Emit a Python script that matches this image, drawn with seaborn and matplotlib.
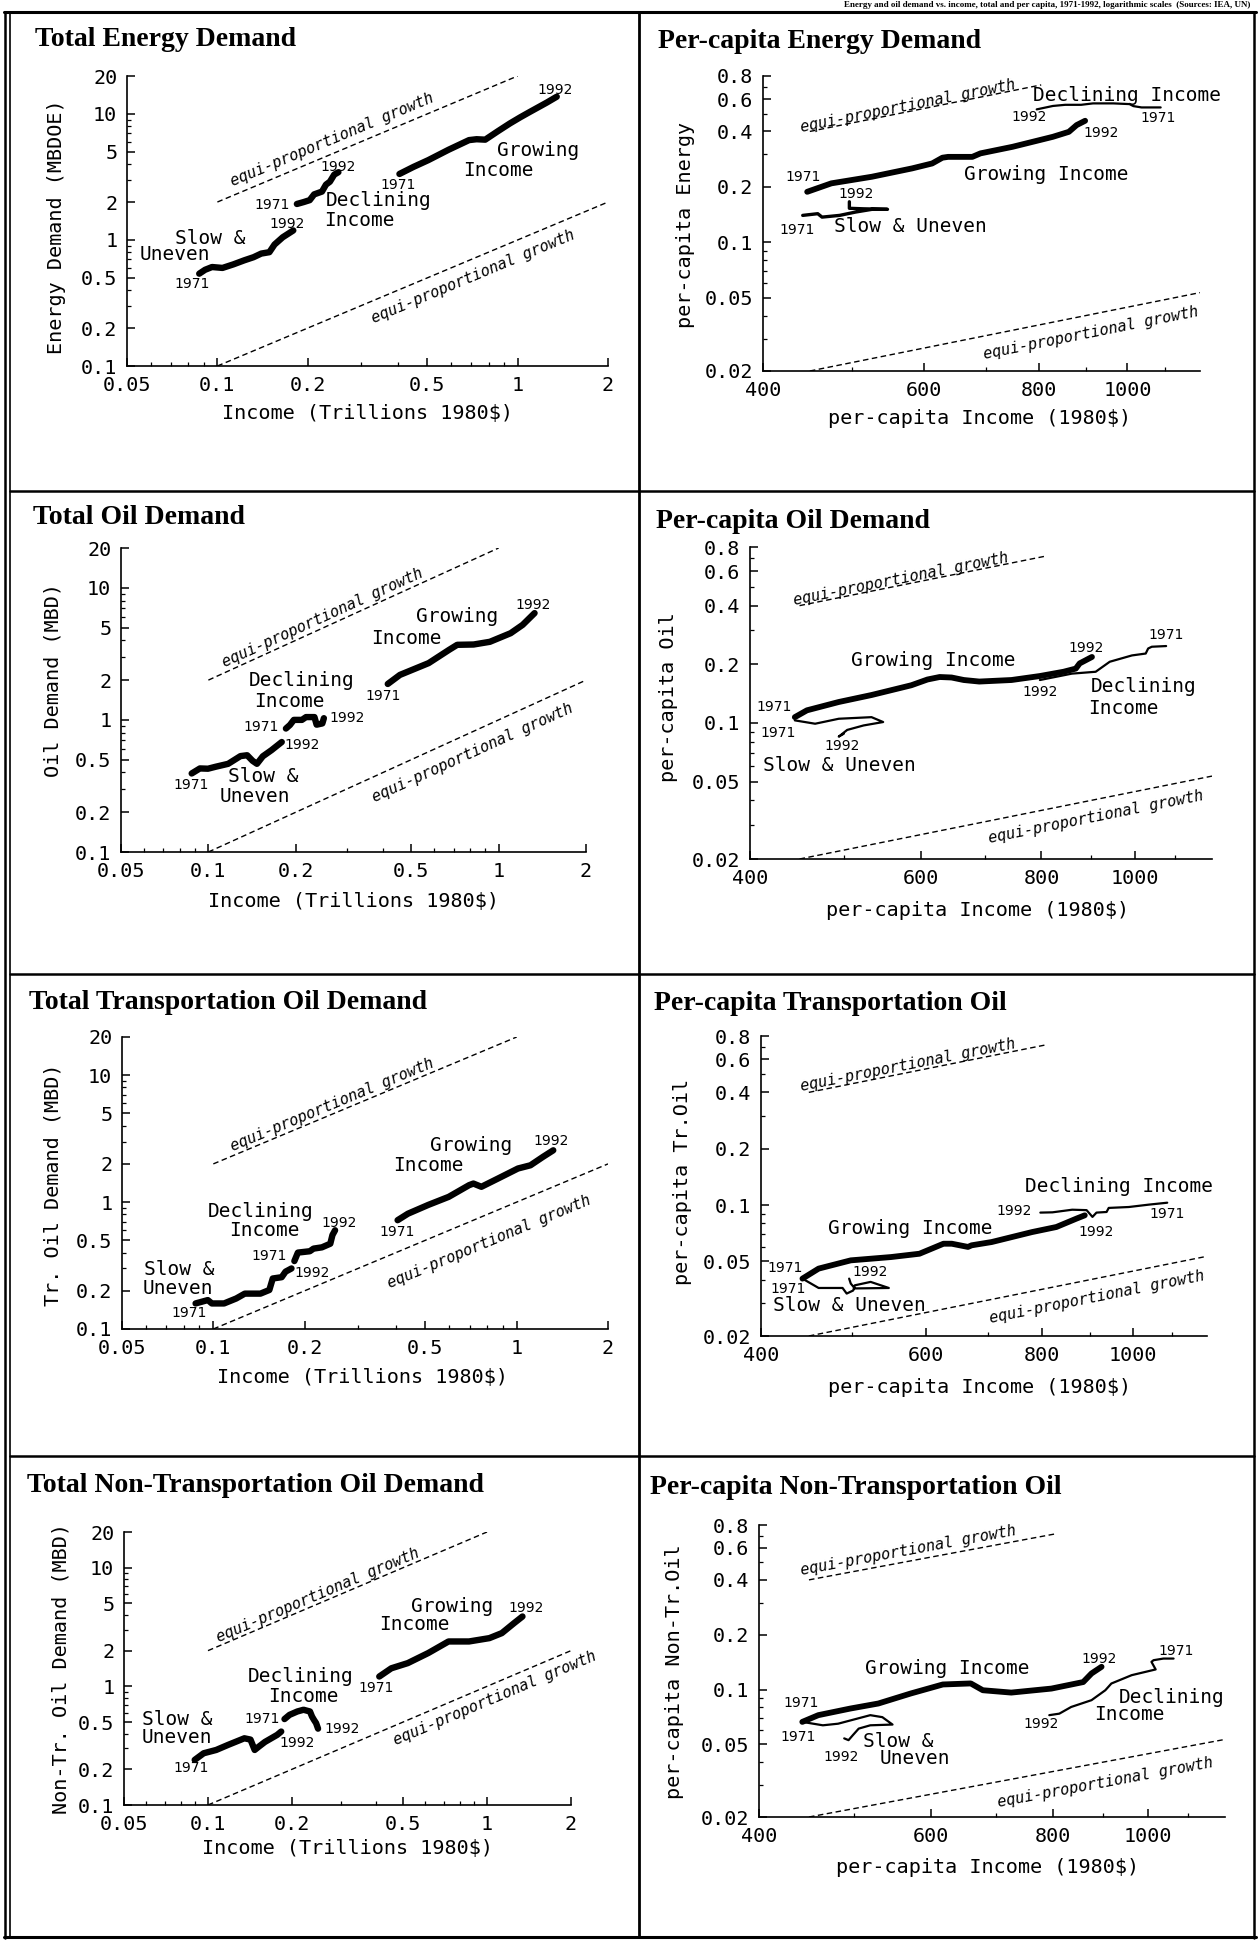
import numpy as np
import matplotlib
matplotlib.use("Agg")
import matplotlib.pyplot as plt
import seaborn as sns
from matplotlib.lines import Line2D
from matplotlib.ticker import FixedLocator, FixedFormatter, NullFormatter

W, H = 1260, 1942

# ---------------- data ----------------
# Total energy demand (MBDOE) vs income (trillions 1980$)
te_slow_x = [0.087, 0.091, 0.096, 0.104, 0.113, 0.123, 0.132, 0.140, 0.149, 0.155, 0.165, 0.179]
te_slow_y = [0.54, 0.58, 0.61, 0.60, 0.64, 0.69, 0.73, 0.78, 0.80, 0.92, 1.05, 1.19]
te_decl_x = [0.184, 0.194, 0.203, 0.210, 0.223, 0.230, 0.237, 0.245, 0.253]
te_decl_y = [1.93, 2.00, 2.07, 2.30, 2.42, 2.75, 2.90, 3.30, 3.45]
te_grow_x = [0.404, 0.45, 0.504, 0.589, 0.689, 0.73, 0.78, 0.86, 0.942, 1.02, 1.10, 1.25, 1.35]
te_grow_y = [3.34, 3.8, 4.3, 5.2, 6.2, 6.3, 6.25, 7.3, 8.4, 9.4, 10.4, 12.3, 13.7]

# Per-capita energy vs per-capita income (1980$)
pe_slow_x = [442, 459, 464, 485, 505, 526, 547, 515, 497, 497]
pe_slow_y = [0.140, 0.143, 0.137, 0.140, 0.146, 0.151, 0.151, 0.152, 0.153, 0.166]
pe_decl_x = [1087, 1036, 1015, 1005, 965, 917, 890, 855, 829, 796]
pe_decl_y = [0.540, 0.540, 0.549, 0.563, 0.568, 0.568, 0.558, 0.558, 0.550, 0.527]
pe_grow_x = [447, 475, 526, 582, 612, 628, 637, 677, 691, 749, 829, 863, 880, 899]
pe_grow_y = [0.188, 0.209, 0.227, 0.252, 0.268, 0.288, 0.291, 0.291, 0.304, 0.330, 0.374, 0.398, 0.433, 0.457]

# Total oil demand (MBD)
to_slow_x = [0.0876, 0.0935, 0.0997, 0.106, 0.117, 0.129, 0.136, 0.142, 0.147, 0.154, 0.165, 0.179]
to_slow_y = [0.393, 0.429, 0.427, 0.442, 0.465, 0.532, 0.540, 0.49, 0.465, 0.53, 0.59, 0.68]
to_decl_x = [0.185, 0.191, 0.197, 0.210, 0.217, 0.232, 0.236, 0.247, 0.250]
to_decl_y = [0.86, 0.915, 1.0, 1.0, 1.05, 1.05, 0.92, 0.94, 1.03]
to_grow_x = [0.415, 0.457, 0.574, 0.675, 0.72, 0.82, 0.933, 1.10, 1.21, 1.33]
to_grow_y = [1.87, 2.19, 2.69, 3.39, 3.70, 3.72, 3.9, 4.53, 5.24, 6.43]

# Per-capita oil
po_slow_x = [445, 467, 494, 534, 549, 524, 504, 494, 500]
po_slow_y = [0.103, 0.099, 0.105, 0.107, 0.101, 0.097, 0.092, 0.085, 0.088]
po_decl_x = [1076, 1040, 1031, 1025, 992, 941, 910, 860, 797]
po_decl_y = [0.248, 0.246, 0.241, 0.227, 0.222, 0.206, 0.183, 0.179, 0.166]
po_grow_x = [445, 458, 494, 534, 587, 610, 628, 646, 665, 690, 745, 797, 843, 868, 876, 902]
po_grow_y = [0.107, 0.116, 0.128, 0.139, 0.156, 0.167, 0.172, 0.171, 0.166, 0.163, 0.166, 0.174, 0.183, 0.19, 0.202, 0.218]

# Total transportation oil demand (MBD)
tt_slow_x = [0.0874, 0.0959, 0.0989, 0.1085, 0.119, 0.127, 0.143, 0.153, 0.157, 0.168, 0.173, 0.181]
tt_slow_y = [0.159, 0.169, 0.159, 0.159, 0.174, 0.19, 0.19, 0.203, 0.25, 0.256, 0.283, 0.30]
tt_decl_x = [0.185, 0.19, 0.208, 0.214, 0.228, 0.243, 0.247, 0.252]
tt_decl_y = [0.343, 0.40, 0.41, 0.43, 0.44, 0.47, 0.55, 0.60]
tt_grow_x = [0.405, 0.438, 0.511, 0.597, 0.697, 0.72, 0.765, 0.866, 1.01, 1.11, 1.22, 1.32]
tt_grow_y = [0.72, 0.81, 0.95, 1.10, 1.36, 1.40, 1.32, 1.53, 1.84, 1.95, 2.27, 2.56]

# Per-capita transportation oil
pt_slow_x = [443, 461, 489, 494, 502, 504, 524, 548, 504, 499, 497]
pt_slow_y = [0.0405, 0.0361, 0.0361, 0.0337, 0.035, 0.0373, 0.0389, 0.0361, 0.0359, 0.0381, 0.0405]
pt_decl_x = [1088, 1040, 990, 942, 937, 914, 905, 892, 861, 820, 796]
pt_decl_y = [0.103, 0.1006, 0.0977, 0.0966, 0.0919, 0.0912, 0.0865, 0.094, 0.0945, 0.0915, 0.0912]
pt_grow_x = [443, 461, 499, 551, 591, 627, 640, 666, 672, 706, 780, 828, 870, 888]
pt_grow_y = [0.0405, 0.0458, 0.0507, 0.0528, 0.055, 0.0622, 0.0622, 0.0598, 0.061, 0.0635, 0.0718, 0.0764, 0.0847, 0.0882]

# Total non-transportation oil demand (MBD)
tn_slow_x = [0.0896, 0.0965, 0.107, 0.118, 0.135, 0.142, 0.147, 0.152, 0.16, 0.177, 0.183]
tn_slow_y = [0.24, 0.273, 0.291, 0.321, 0.365, 0.356, 0.291, 0.31, 0.34, 0.39, 0.416]
tn_decl_x = [0.188, 0.196, 0.209, 0.22, 0.232, 0.236, 0.24, 0.244, 0.248]
tn_decl_y = [0.53, 0.575, 0.614, 0.635, 0.614, 0.556, 0.52, 0.49, 0.44]
tn_grow_x = [0.411, 0.454, 0.52, 0.616, 0.728, 0.862, 1.02, 1.13, 1.25, 1.34]
tn_grow_y = [1.21, 1.42, 1.57, 1.91, 2.39, 2.39, 2.55, 2.81, 3.41, 3.88]

# Per-capita non-transportation oil
pn_slow_x = [443, 465, 482, 520, 535, 548, 520, 506, 499, 494, 489]
pn_slow_y = [0.0665, 0.0637, 0.065, 0.0724, 0.0706, 0.0643, 0.0637, 0.0611, 0.0562, 0.0528, 0.054]
pn_decl_x = [1063, 1038, 1014, 1009, 1019, 963, 918, 905, 876, 835, 812, 793]
pn_decl_y = [0.148, 0.148, 0.145, 0.142, 0.129, 0.12, 0.108, 0.0992, 0.0875, 0.0803, 0.0738, 0.0724]
pn_grow_x = [443, 460, 496, 530, 572, 617, 659, 678, 725, 797, 859, 876, 897]
pn_grow_y = [0.0665, 0.0724, 0.0787, 0.0839, 0.0952, 0.1067, 0.1081, 0.0992, 0.0963, 0.1013, 0.110, 0.1226, 0.1334]

# equi-proportional growth reference lines (slope 1 in log-log)
tot_eq_up_x, tot_eq_up_y = [0.1, 1.0], [2.0, 20.0]
tot_eq_lo_x, tot_eq_lo_y = [0.1, 2.0], [0.1, 2.0]
pc_eq_up_x, pc_eq_up_y = [450, 805], [0.4, 0.7156]
pc_eq_lo_x, pc_eq_lo_y = [450, 1200], [0.02, 0.0533]

# tick labels
tot_xticks = [0.05, 0.1, 0.2, 0.5, 1, 2]
tot_xticklabels = ["0.05", "0.1", "0.2", "0.5", "1", "2"]
tot_yticks = [0.1, 0.2, 0.5, 1, 2, 5, 10, 20]
tot_yticklabels = ["0.1", "0.2", "0.5", "1", "2", "5", "10", "20"]
pc_xticks = [400, 600, 800, 1000]
pc_xticklabels = ["400", "600", "800", "1000"]
pc_yticks = [0.02, 0.05, 0.1, 0.2, 0.4, 0.6, 0.8]
pc_yticklabels = ["0.02", "0.05", "0.1", "0.2", "0.4", "0.6", "0.8"]

# annotations (text, x, y) in data coordinates
te_labels = [("1992", 1.33, 15.5), ("Growing", 1.17, 5.17), ("Income", 0.86, 3.59), ("1971", 0.40, 2.73),
             ("1992", 0.253, 3.82), ("1971", 0.152, 1.89), ("Declining", 0.344, 2.04), ("Income", 0.296, 1.44),
             ("1992", 0.171, 1.34), ("Slow &", 0.0944, 1.03), ("Uneven", 0.0723, 0.76), ("1971", 0.0827, 0.45)]
te_eq = [(0.241, 6.2), (0.71, 0.51)]
pe_labels = [("Declining Income", 1000, 0.63), ("1992", 780, 0.477), ("1971", 1081, 0.474), ("1992", 936, 0.394),
             ("Growing Income", 816, 0.232), ("1971", 442, 0.225), ("1992", 506, 0.184), ("1971", 436, 0.117),
             ("Slow & Uneven", 580, 0.122)]
pe_eq = [(576, 0.55), (913, 0.032)]
to_labels = [("1992", 1.31, 7.4), ("Growing", 0.72, 6.07), ("Income", 0.48, 4.16), ("1971", 0.40, 1.52),
             ("Declining", 0.209, 2.0), ("Income", 0.19, 1.37), ("1971", 0.152, 0.88), ("1992", 0.30, 1.03),
             ("1992", 0.21, 0.645), ("Slow &", 0.154, 0.376), ("Uneven", 0.145, 0.265), ("1971", 0.087, 0.32)]
to_eq = [(0.247, 5.9), (0.81, 0.56)]
po_labels = [("Growing Income", 619, 0.21), ("1992", 889, 0.241), ("1971", 1076, 0.282), ("1992", 797, 0.144),
             ("Declining", 1021, 0.153), ("Income", 973, 0.119), ("1971", 424, 0.121), ("1971", 428, 0.089),
             ("1992", 498, 0.076), ("Slow & Uneven", 495, 0.0607)]
po_eq = [(573, 0.55), (910, 0.033)]
tt_labels = [("1992", 1.30, 3.02), ("Growing", 0.71, 2.8), ("Income", 0.51, 1.95), ("1971", 0.405, 0.58),
             ("Declining", 0.143, 0.85), ("Income", 0.147, 0.60), ("1992", 0.259, 0.68), ("1971", 0.153, 0.378),
             ("1992", 0.211, 0.274), ("Slow &", 0.077, 0.297), ("Uneven", 0.0766, 0.209), ("1971", 0.083, 0.133)]
tt_eq = [(0.247, 5.8), (0.81, 0.49)]
pt_labels = [("Declining Income", 966, 0.125), ("1992", 746, 0.093), ("1971", 1088, 0.09), ("1992", 914, 0.0718),
             ("Growing Income", 578, 0.0749), ("1971", 425, 0.046), ("1992", 524, 0.0439), ("1971", 428, 0.0358),
             ("Slow & Uneven", 497, 0.0292)]
pt_eq = [(574, 0.56), (914, 0.0323)]
tn_labels = [("1992", 1.38, 4.57), ("Growing", 0.75, 4.72), ("Income", 0.547, 3.3), ("1971", 0.40, 0.97),
             ("Declining", 0.215, 1.21), ("Income", 0.22, 0.82), ("1971", 0.156, 0.53), ("1992", 0.303, 0.44),
             ("1992", 0.208, 0.336), ("Slow &", 0.0775, 0.53), ("Uneven", 0.0775, 0.37), ("1971", 0.087, 0.204)]
tn_eq = [(0.248, 5.9), (1.07, 0.79)]
pn_labels = [("1971", 1070, 0.163), ("1992", 892, 0.148), ("Growing Income", 624, 0.13), ("Declining", 1058, 0.09),
             ("Income", 958, 0.073), ("1992", 778, 0.065), ("1971", 442, 0.084), ("1971", 439, 0.055),
             ("1992", 486, 0.0427), ("Slow &", 555, 0.052), ("Uneven", 578, 0.042)]
pn_eq = [(569, 0.576), (905, 0.031)]

# ---------------- styling ----------------
sns.set_theme(style="ticks")
plt.rcParams["font.family"] = ["DejaVu Sans Mono", "DejaVu Sans"]
plt.rcParams["axes.edgecolor"] = "black"
plt.rcParams["text.color"] = "black"
plt.rcParams["xtick.color"] = "black"
plt.rcParams["ytick.color"] = "black"

MONO = "DejaVu Sans Mono"
SERIF = "Liberation Serif"
TICK_FS = 14.5
LAB_FS = 14.5
GRP_FS = 14.0
YR_FS = 10.0
EQ_FS = 11.0
TITLE_FS = 20.0

fig = plt.figure(figsize=(W / 100, H / 100), dpi=100)
fig.patch.set_facecolor("white")


def fx(px):
    return px / W


def fy(py):
    return 1 - py / H


panels = [
    dict(kind="tot", rect=(127, 76, 608, 366), title="Total Energy Demand", tpos=(35, 39),
         ylabel="Energy Demand (MBDOE)", ylpos=(57, 227), xlpos=(367, 413),
         curves=[(te_slow_x, te_slow_y), (te_decl_x, te_decl_y), (te_grow_x, te_grow_y)],
         labels=te_labels, eq=te_eq),
    dict(kind="pc", rect=(763, 76, 1200, 371), title="Per-capita Energy Demand", tpos=(658, 42),
         ylabel="per-capita Energy", ylpos=(686, 225), xlpos=(980, 419),
         curves=[(pe_slow_x, pe_slow_y), (pe_decl_x, pe_decl_y), (pe_grow_x, pe_grow_y)],
         labels=pe_labels, eq=pe_eq),
    dict(kind="tot", rect=(121, 548, 586, 852), title="Total Oil Demand", tpos=(33, 518),
         ylabel="Oil Demand (MBD)", ylpos=(53, 680), xlpos=(353, 902),
         curves=[(to_slow_x, to_slow_y), (to_decl_x, to_decl_y), (to_grow_x, to_grow_y)],
         labels=to_labels, eq=to_eq),
    dict(kind="pc", rect=(750, 547, 1212, 859), title="Per-capita Oil Demand", tpos=(656, 522),
         ylabel="per-capita Oil", ylpos=(668, 697), xlpos=(978, 910),
         curves=[(po_slow_x, po_slow_y), (po_decl_x, po_decl_y), (po_grow_x, po_grow_y)],
         labels=po_labels, eq=po_eq),
    dict(kind="tot", rect=(122, 1037, 608, 1329), title="Total Transportation Oil Demand", tpos=(29, 1002),
         ylabel="Tr. Oil Demand (MBD)", ylpos=(53, 1185), xlpos=(363, 1378),
         curves=[(tt_slow_x, tt_slow_y), (tt_decl_x, tt_decl_y), (tt_grow_x, tt_grow_y)],
         labels=tt_labels, eq=tt_eq),
    dict(kind="pc", rect=(761, 1036, 1207, 1336), title="Per-capita Transportation Oil", tpos=(654, 1003),
         ylabel="per-capita Tr.Oil", ylpos=(682, 1182), xlpos=(980, 1387),
         curves=[(pt_slow_x, pt_slow_y), (pt_decl_x, pt_decl_y), (pt_grow_x, pt_grow_y)],
         labels=pt_labels, eq=pt_eq),
    dict(kind="tot", rect=(124, 1532, 571, 1805), title="Total Non-Transportation Oil Demand", tpos=(27, 1485),
         ylabel="Non-Tr. Oil Demand (MBD)", ylpos=(61, 1668), xlpos=(347, 1848),
         curves=[(tn_slow_x, tn_slow_y), (tn_decl_x, tn_decl_y), (tn_grow_x, tn_grow_y)],
         labels=tn_labels, eq=tn_eq),
    dict(kind="pc", rect=(759, 1525, 1225, 1817), title="Per-capita Non-Transportation Oil", tpos=(650, 1488),
         ylabel="per-capita Non-Tr.Oil", ylpos=(674, 1672), xlpos=(988, 1867),
         curves=[(pn_slow_x, pn_slow_y), (pn_decl_x, pn_decl_y), (pn_grow_x, pn_grow_y)],
         labels=pn_labels, eq=pn_eq),
]

for pi, p in enumerate(panels):
    L, T, R, B = p["rect"]
    ax = fig.add_axes([fx(L), fy(B), (R - L) / W, (B - T) / H])
    ax.set_facecolor("none")
    ax.set_xscale("log")
    ax.set_yscale("log")
    tot = p["kind"] == "tot"
    if tot:
        xlim, ylim = (0.05, 2), (0.1, 20)
        xt, xtl, yt, ytl = tot_xticks, tot_xticklabels, tot_yticks, tot_yticklabels
        xmin = [0.06, 0.07, 0.08, 0.09, 0.3, 0.4, 0.6, 0.7, 0.8, 0.9]
        ymin = [0.3, 0.4, 0.6, 0.7, 0.8, 0.9, 3, 4, 6, 7, 8, 9]
        eqs = [(tot_eq_up_x, tot_eq_up_y), (tot_eq_lo_x, tot_eq_lo_y)]
        xlabel = "Income (Trillions 1980$)"
    else:
        xlim, ylim = (400, 1200), (0.02, 0.8)
        xt, xtl, yt, ytl = pc_xticks, pc_xticklabels, pc_yticks, pc_yticklabels
        xmin = [500, 700, 900, 1100]
        ymin = [0.03, 0.04, 0.06, 0.07, 0.08, 0.09, 0.3, 0.5, 0.7]
        eqs = [(pc_eq_up_x, pc_eq_up_y), (pc_eq_lo_x, pc_eq_lo_y)]
        xlabel = "per-capita Income (1980$)"
    ax.set_xlim(*xlim)
    ax.set_ylim(*ylim)

    # equi-proportional growth lines
    for ex, ey in eqs:
        ax.plot(ex, ey, color="black", lw=1.0, dashes=(4, 2.5))

    # data curves: slow & uneven, declining income, growing income
    for i, (cx, cy) in enumerate(p["curves"]):
        if tot:
            lw = 4.6
        elif i == 2:
            lw = 4.2
        elif pi == 1 and i == 0:
            lw = 2.4
        else:
            lw = 1.6
        sns.lineplot(x=np.array(cx, dtype=float), y=np.array(cy, dtype=float), sort=False,
                     estimator=None, color="black", linewidth=lw, ax=ax, legend=False,
                     solid_joinstyle="round", solid_capstyle="round")

    ax.set_xlim(*xlim)
    ax.set_ylim(*ylim)
    ax.xaxis.set_major_locator(FixedLocator(xt))
    ax.xaxis.set_major_formatter(FixedFormatter(xtl))
    ax.yaxis.set_major_locator(FixedLocator(yt))
    ax.yaxis.set_major_formatter(FixedFormatter(ytl))
    ax.xaxis.set_minor_locator(FixedLocator(xmin))
    ax.yaxis.set_minor_locator(FixedLocator(ymin))
    ax.xaxis.set_minor_formatter(NullFormatter())
    ax.yaxis.set_minor_formatter(NullFormatter())
    for s in ["top", "right"]:
        ax.spines[s].set_visible(False)
    for s in ["left", "bottom"]:
        ax.spines[s].set_linewidth(1.2)
        ax.spines[s].set_color("black")
    ax.tick_params(which="major", direction="in", length=6, width=1.1, labelsize=TICK_FS, pad=7)
    ax.tick_params(which="minor", direction="in", length=3, width=0.9)
    for tl in ax.get_xticklabels() + ax.get_yticklabels():
        tl.set_fontfamily(MONO)
    ax.set_xlabel("")
    ax.set_ylabel("")

    # annotations
    for txt, tx, ty in p["labels"]:
        if txt.isdigit():
            ax.text(tx, ty, txt, ha="center", va="center", fontsize=YR_FS, family="DejaVu Sans")
        else:
            ax.text(tx, ty, txt, ha="center", va="center", fontsize=GRP_FS, family=MONO)

    # equi-proportional labels, rotated along the lines
    for (ex, ey), (tx, ty) in zip(eqs, p["eq"]):
        p1 = ax.transData.transform((ex[0], ey[0]))
        p2 = ax.transData.transform((ex[1], ey[1]))
        ang = np.degrees(np.arctan2(p2[1] - p1[1], p2[0] - p1[0]))
        ax.text(tx, ty, "equi-proportional growth", ha="center", va="center", rotation=ang,
                rotation_mode="anchor", fontsize=EQ_FS, family=MONO, style="italic")

    # panel title and axis labels
    fig.text(fx(p["tpos"][0]), fy(p["tpos"][1]), p["title"], ha="left", va="center",
             fontsize=TITLE_FS, family=SERIF, weight="bold")
    fig.text(fx(p["xlpos"][0]), fy(p["xlpos"][1]), xlabel, ha="center", va="center",
             fontsize=LAB_FS, family=MONO)
    fig.text(fx(p["ylpos"][0]), fy(p["ylpos"][1]), p["ylabel"], ha="center", va="center",
             rotation=90, fontsize=LAB_FS, family=MONO)

# ---------------- frame lines ----------------
def hline(y, x0, x1, lw):
    fig.add_artist(Line2D([fx(x0), fx(x1)], [fy(y), fy(y)], color="black", lw=lw,
                          transform=fig.transFigure))


def vline(x, y0, y1, lw):
    fig.add_artist(Line2D([fx(x), fx(x)], [fy(y0), fy(y1)], color="black", lw=lw,
                          transform=fig.transFigure))

hline(12, 4, 1256, 2.2)
hline(1937, 4, 1256, 2.2)
vline(5, 12, 1938, 1.8)
vline(10, 12, 1938, 1.2)
vline(1254, 12, 1938, 1.8)
vline(639, 12, 1937, 2.0)
for yy in (491, 974, 1456):
    hline(yy, 10, 1254, 1.8)

# caption strip at the very top (small, fits in the strip above the frame)
fig.text(fx(1250), fy(5), "Energy and oil demand vs. income, total and per capita, 1971-1992, logarithmic scales  (Sources: IEA, UN)",
         ha="right", va="center", fontsize=6.5, family=SERIF, weight="bold")

fig.savefig("out.png", dpi=100, facecolor="white")
